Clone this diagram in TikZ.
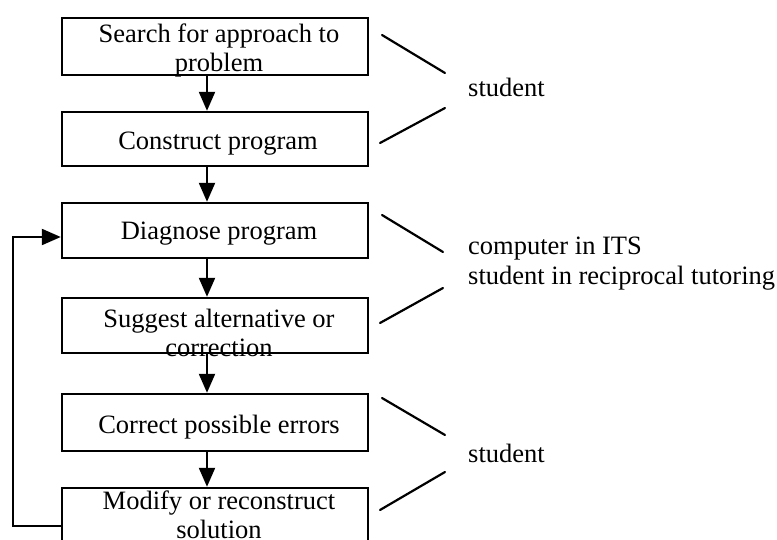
\documentclass[tikz,border=0pt]{standalone}
\usepackage{fontspec}
\setmainfont{Liberation Serif}
\usetikzlibrary{arrows.meta}
\begin{document}
\begin{tikzpicture}[x=1pt,y=-1pt,
  box/.style={draw,line width=2.4pt,rectangle,inner sep=0pt,minimum width=306pt},
  txt/.style={anchor=base,inner sep=0pt,font=\fontsize{26.5}{29}\selectfont},
  rtxt/.style={anchor=base west,inner sep=0pt,font=\fontsize{26.5}{29}\selectfont},
  arr/.style={line width=2.2pt,-{Triangle[length=19pt,width=16pt]}},
  slash/.style={line width=2.2pt,line cap=round}]
\clip (0,0) rectangle (777,540);
\fill[white] (0,0) rectangle (777,540);
% boxes
\node[box,minimum height=57pt] (b1) at (215,46.5) {};
\node[box,minimum height=54pt] (b2) at (215,139) {};
\node[box,minimum height=55pt] (b3) at (215,230.5) {};
\node[box,minimum height=55pt] (b4) at (215,325.5) {};
\node[box,minimum height=57pt] (b5) at (215,422.5) {};
\node[box,minimum height=57pt] (b6) at (215,516.5) {};
% texts
\node[txt] (t1a) at (219,43) {Search for approach to};
\node[txt] (t1b) at (219,72) {problem};
\node[txt] (t2) at (218,150) {Construct program};
\node[txt] (t3) at (219,240) {Diagnose program};
\node[txt] (t4a) at (219,327) {Suggest alternative or};
\node[txt] (t4b) at (219,356) {correction};
\node[txt] (t5) at (219,433) {Correct possible errors};
\node[txt] (t6a) at (219,509) {Modify or reconstruct};
\node[txt] (t6b) at (219,538) {solution};
% vertical arrows
\coordinate (ax) at (207,0);
\draw[arr] (b1.south -| ax) -- (b2.north -| ax);
\draw[arr] (b2.south -| ax) -- (b3.north -| ax);
\draw[arr] (b3.south -| ax) -- (b4.north -| ax);
\draw[arr] (b4.south -| ax) -- (b5.north -| ax);
\draw[arr] (b5.south -| ax) -- (b6.north -| ax);
% feedback loop
\coordinate (f1) at (13,526);
\coordinate (f2) at (13,237);
\draw[arr] (b6.west |- f1) -- (f1) -- (f2) -- (b3.west |- f2);
% right side braces
\coordinate (s1a) at (382,35);  \coordinate (s1b) at (445,73);
\coordinate (s2a) at (380,143); \coordinate (s2b) at (445,108);
\coordinate (s3a) at (382,215); \coordinate (s3b) at (443,252);
\coordinate (s4a) at (380,323); \coordinate (s4b) at (443,288);
\coordinate (s5a) at (382,398); \coordinate (s5b) at (445,435);
\coordinate (s6a) at (380,510); \coordinate (s6b) at (445,472);
\draw[slash] (s1a) -- (s1b);
\draw[slash] (s2a) -- (s2b);
\draw[slash] (s3a) -- (s3b);
\draw[slash] (s4a) -- (s4b);
\draw[slash] (s5a) -- (s5b);
\draw[slash] (s6a) -- (s6b);
\node[rtxt] (r1) at (468,97) {student};
\node[rtxt] (r2) at (468,255) {computer in ITS};
\node[rtxt] (r3) at (468,285) {student in reciprocal tutoring};
\node[rtxt] (r4) at (468,462) {student};
\end{tikzpicture}
\end{document}
